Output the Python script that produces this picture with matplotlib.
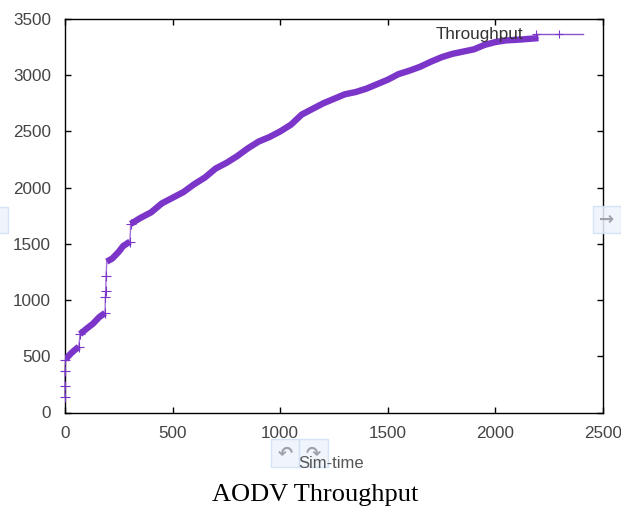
import matplotlib
matplotlib.use('Agg')
import matplotlib.pyplot as plt
from matplotlib.patches import Rectangle

plt.rcParams['font.family'] = ['Liberation Sans', 'DejaVu Sans']

# sparse points at the start, the jumps and the tail
start_x = [0, 0, 0, 2]
start_y = [138, 236, 369, 467]
jump_x = [64, 70, 186, 188, 189, 191, 302, 305]
jump_y = [585, 697, 885, 1030, 1080, 1214, 1520, 1677]
tail_x = [2190, 2297, 2405]
tail_y = [3365, 3365, 3365]

# dense parts of the curve, drawn thick
seg1_x = [3, 15, 30, 45, 64]
seg1_y = [470, 500, 530, 555, 585]
seg2_x = [70, 100, 130, 160, 186]
seg2_y = [697, 745, 790, 850, 885]
seg3_x = [194, 220, 250, 270, 302]
seg3_y = [1342, 1370, 1430, 1480, 1520]
seg4_x = [305, 350, 400, 450, 500, 550, 600, 650, 700, 750, 800, 850, 900, 950, 1000,
          1050, 1100, 1150, 1200, 1250, 1300, 1350, 1400, 1450, 1500, 1550, 1600, 1650,
          1700, 1750, 1800, 1850, 1900, 1950, 2000, 2050, 2100, 2200]
seg4_y = [1677, 1730, 1780, 1860, 1910, 1960, 2030, 2090, 2170, 2220, 2280, 2350, 2410, 2450, 2500,
          2560, 2650, 2700, 2750, 2790, 2830, 2850, 2880, 2920, 2960, 3010, 3040, 3075,
          3120, 3160, 3190, 3210, 3230, 3270, 3295, 3310, 3315, 3330]

x_ticks = [0, 500, 1000, 1500, 2000, 2500]
y_ticks = [0, 500, 1000, 1500, 2000, 2500, 3000, 3500]

W, H = 621, 507
purple = '#7b35c8'

fig = plt.figure(figsize=(W / 100, H / 100), dpi=100)
ax = fig.add_axes([65 / W, 1 - 412.5 / H, (603 - 65) / W, (412.5 - 19) / H])

# thin line through everything
all_x = start_x[:3] + seg1_x + seg2_x + jump_x[3:6] + seg3_x + seg4_x
all_y = start_y[:3] + seg1_y + seg2_y + jump_y[3:6] + seg3_y + seg4_y
ax.plot(all_x, all_y, color=purple, lw=1, alpha=0.7, zorder=2, clip_on=False)
ax.plot(tail_x, tail_y, color=purple, lw=1, alpha=0.85, zorder=2)

for sx, sy in [(seg1_x, seg1_y), (seg2_x, seg2_y), (seg3_x, seg3_y), (seg4_x, seg4_y)]:
    ax.plot(sx, sy, color=purple, lw=4.6, solid_capstyle='butt', zorder=3)

ax.plot(start_x, start_y, '+', color=purple, ms=6.5, mew=0.8, zorder=3, clip_on=False)
ax.plot(jump_x, jump_y, '+', color=purple, ms=6.5, mew=0.8, zorder=3)
ax.plot(tail_x[:2], tail_y[:2], '+', color=purple, ms=6, mew=0.8, zorder=3)

ax.set_xlim(0, 2500)
ax.set_ylim(0, 3500)
ax.set_xticks(x_ticks)
ax.set_yticks(y_ticks)
ax.tick_params(direction='in', length=4, width=1, labelsize=12.3, labelcolor='#444444', top=True, right=True)
ax.tick_params(axis='x', pad=10)
ax.tick_params(axis='y', pad=10)
ax.spines[:].set_linewidth(1)

fig.text(479.5 / W, 1 - 34 / H, 'Throughput', ha='center', va='center', fontsize=12.3, color='#333333', zorder=5)
fig.text(331 / W, 1 - 463 / H, 'Sim-time', ha='center', va='center', fontsize=12, color='#555555', zorder=5)
fig.text(315.5 / W, 1 - 495 / H, 'AODV Throughput', ha='center', va='center', fontsize=19,
         family=['Liberation Serif', 'DejaVu Serif'], color='black')

# viewer buttons lying over the screenshot
buttons = [(-3, 207, 11, 26, ''), (593, 206, 28, 27, '→'), (271, 439, 28, 28, '↶'), (299, 439, 29, 28, '↷')]
for bx, by, bw, bh, glyph in buttons:
    fig.add_artist(Rectangle((bx / W, 1 - (by + bh) / H), bw / W, bh / H, transform=fig.transFigure,
                             facecolor='#eef3fb', edgecolor='#cfe0f7', lw=1, alpha=0.85, zorder=4))
    if glyph:
        fig.text((bx + bw / 2) / W, 1 - (by + bh / 2) / H, glyph, ha='center', va='center', fontsize=13,
                 color='#a0a0a8', family='DejaVu Sans', weight='bold', zorder=4.5)

fig.savefig('out.png', dpi=100)
